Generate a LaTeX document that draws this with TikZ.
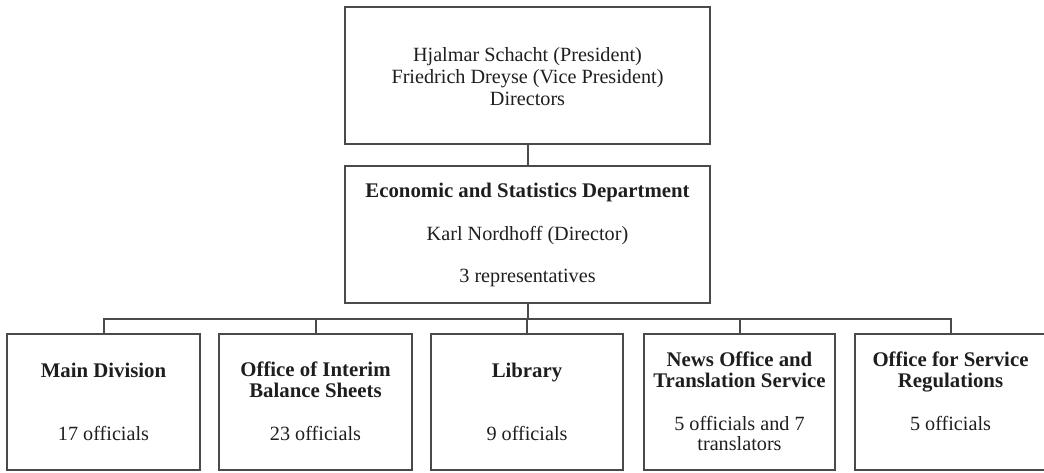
\documentclass[tikz,border=0pt]{standalone}
\usepackage{fontspec}
\setmainfont{Liberation Serif}
\definecolor{linegray}{HTML}{4A4A4A}
\definecolor{txt}{HTML}{1E1E1E}
\begin{document}
\begin{tikzpicture}[x=1pt,y=-1pt,
  box/.style={draw=linegray, line width=1.8pt, rectangle, inner sep=0pt},
  conn/.style={draw=linegray, line width=2pt},
  tx/.style={anchor=base, inner sep=0pt, text=txt, font=\fontsize{20.2}{22}\selectfont},
  bx/.style={tx, font=\fontsize{20.8}{22}\selectfont\bfseries}]
\useasboundingbox (0,0) rectangle (1044,472);
\clip (0,0) rectangle (1044,472);
% boxes
\node[box, minimum width=365pt, minimum height=137pt] (top) at (527.5,75.5) {};
\node[box, minimum width=365pt, minimum height=137pt] (mid) at (527.5,234.5) {};
\node[box, minimum width=193pt, minimum height=136pt] (b1) at (103.5,402) {};
\node[box, minimum width=193pt, minimum height=136pt] (b2) at (315.5,402) {};
\node[box, minimum width=192pt, minimum height=136pt] (b3) at (527,402) {};
\node[box, minimum width=191pt, minimum height=136pt] (b4) at (739.5,402) {};
\node[box, minimum width=191pt, minimum height=136pt] (b5) at (950.5,402) {};
% texts
\node[tx] (t1) at (527.5,61) {Hjalmar Schacht (President)};
\node[tx] (t2) at (527.5,83) {Friedrich Dreyse (Vice President)};
\node[tx] (t3) at (527.5,105) {Directors};
\node[bx] (m1) at (527.5,197) {Economic and Statistics Department};
\node[tx] (m2) at (527.5,240) {Karl Nordhoff (Director)};
\node[tx] (m3) at (527.5,282) {3 representatives};
\node[bx] (a1) at (103.5,377) {Main Division};
\node[tx] (a2) at (103.5,440) {17 officials};
\node[bx] (c1) at (315.5,376) {Office of Interim};
\node[bx] (c2) at (315.5,397) {Balance Sheets};
\node[tx] (c3) at (315.5,440) {23 officials};
\node[bx] (d1) at (527,377) {Library};
\node[tx] (d2) at (527,440) {9 officials};
\node[bx] (e1) at (739.5,366) {News Office and};
\node[bx] (e2) at (739.5,387) {Translation Service};
\node[tx] (e3) at (739.5,430) {5 officials and 7};
\node[tx] (e4) at (739.5,450) {translators};
\node[bx] (f1) at (950.5,366) {Office for Service};
\node[bx] (f2) at (950.5,387) {Regulations};
\node[tx] (f3) at (950.5,430) {5 officials};
% connectors
\coordinate (busL) at (103.5,319);
\coordinate (busR) at (950.5,319);
\coordinate (busM) at (527.5,319);
\draw[conn] (top.south) -- (mid.north);
\draw[conn] (mid.south) -- (busM);
\draw[conn] (b1.north) -- (busL) -- (busR) -- (b5.north);
\draw[conn] (b2.north) -- (b2.north |- busL);
\draw[conn] (b3.north) -- (b3.north |- busL);
\draw[conn] (b4.north) -- (b4.north |- busL);
\end{tikzpicture}
\end{document}
